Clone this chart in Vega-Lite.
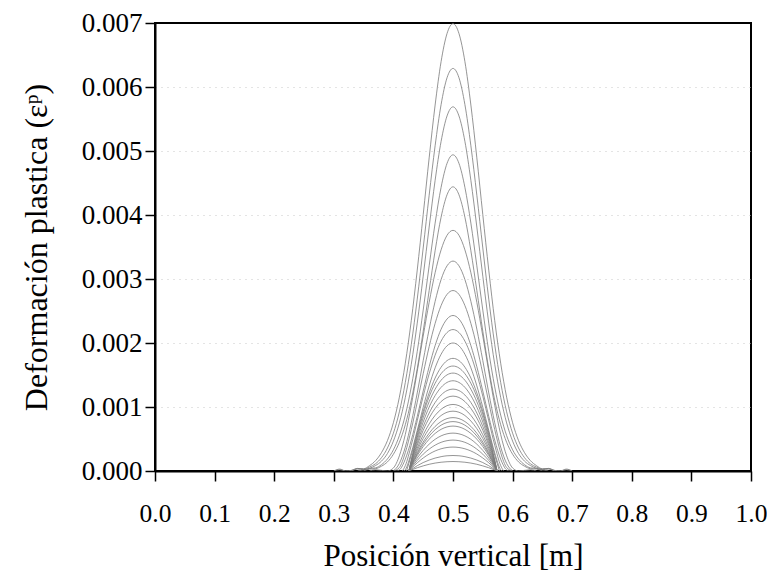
{
"$schema": "https://vega.github.io/schema/vega-lite/v6.json",
"width": 596, "height": 448,
"autosize": "none",
"padding": {"left": 155, "top": 23, "right": 16, "bottom": 109},
"background": "white",
"config": {"view": {"stroke": "#000", "strokeWidth": 2}, "font": "Liberation Serif"},
"data": {"values": [
{"c":1,"x":0.5,"y":0.00699},{"c":1,"x":0.49,"y":0.006836},{"c":1,"x":0.51,"y":0.006836},{"c":1,"x":0.48,"y":0.006396},{"c":1,"x":0.52,"y":0.006396},{"c":1,"x":0.47,"y":0.005718},{"c":1,"x":0.53,"y":0.005718},{"c":1,"x":0.46,"y":0.004893},{"c":1,"x":0.54,"y":0.004893},{"c":1,"x":0.45,"y":0.004005},{"c":1,"x":0.55,"y":0.004005},{"c":1,"x":0.44,"y":0.003139},{"c":1,"x":0.56,"y":0.003139},{"c":1,"x":0.43,"y":0.002349},{"c":1,"x":0.57,"y":0.002349},{"c":1,"x":0.42,"y":0.001685},{"c":1,"x":0.58,"y":0.001685},{"c":1,"x":0.41,"y":0.001153},{"c":1,"x":0.59,"y":0.001153},{"c":1,"x":0.40,"y":0.000755},{"c":1,"x":0.60,"y":0.000755},{"c":1,"x":0.39,"y":0.000475},{"c":1,"x":0.61,"y":0.000475},{"c":1,"x":0.38,"y":0.000287},{"c":1,"x":0.62,"y":0.000287},{"c":1,"x":0.37,"y":0.000161},{"c":1,"x":0.63,"y":0.000161},{"c":1,"x":0.36,"y":0.000084},{"c":1,"x":0.64,"y":0.000084},{"c":1,"x":0.35,"y":0.000035},{"c":1,"x":0.65,"y":0.000035},{"c":1,"x":0.34,"y":0.00004},{"c":1,"x":0.66,"y":0.00004},{"c":1,"x":0.33,"y":0.00001},{"c":1,"x":0.67,"y":0.00001},{"c":1,"x":0.32,"y":0},{"c":1,"x":0.68,"y":0},{"c":1,"x":0.31,"y":0.00003},{"c":1,"x":0.69,"y":0.00003},{"c":1,"x":0.30,"y":0},{"c":1,"x":0.70,"y":0},
{"c":2,"x":0.5,"y":0.00629},{"c":2,"x":0.49,"y":0.006145},{"c":2,"x":0.51,"y":0.006145},{"c":2,"x":0.48,"y":0.005724},{"c":2,"x":0.52,"y":0.005724},{"c":2,"x":0.47,"y":0.005082},{"c":2,"x":0.53,"y":0.005082},{"c":2,"x":0.46,"y":0.004309},{"c":2,"x":0.54,"y":0.004309},{"c":2,"x":0.45,"y":0.003485},{"c":2,"x":0.55,"y":0.003485},{"c":2,"x":0.44,"y":0.002686},{"c":2,"x":0.56,"y":0.002686},{"c":2,"x":0.43,"y":0.001975},{"c":2,"x":0.57,"y":0.001975},{"c":2,"x":0.42,"y":0.001384},{"c":2,"x":0.58,"y":0.001384},{"c":2,"x":0.41,"y":0.000925},{"c":2,"x":0.59,"y":0.000925},{"c":2,"x":0.40,"y":0.000591},{"c":2,"x":0.60,"y":0.000591},{"c":2,"x":0.39,"y":0.000359},{"c":2,"x":0.61,"y":0.000359},{"c":2,"x":0.38,"y":0.000208},{"c":2,"x":0.62,"y":0.000208},{"c":2,"x":0.37,"y":0.000113},{"c":2,"x":0.63,"y":0.000113},{"c":2,"x":0.36,"y":0.000062},{"c":2,"x":0.64,"y":0.000062},{"c":2,"x":0.35,"y":0.00003},{"c":2,"x":0.65,"y":0.00003},{"c":2,"x":0.34,"y":0.00004},{"c":2,"x":0.66,"y":0.00004},{"c":2,"x":0.33,"y":0.00001},{"c":2,"x":0.67,"y":0.00001},{"c":2,"x":0.32,"y":0},{"c":2,"x":0.68,"y":0},{"c":2,"x":0.31,"y":0.00002},{"c":2,"x":0.69,"y":0.00002},{"c":2,"x":0.30,"y":0},{"c":2,"x":0.70,"y":0},
{"c":3,"x":0.5,"y":0.00569},{"c":3,"x":0.49,"y":0.005548},{"c":3,"x":0.51,"y":0.005548},{"c":3,"x":0.48,"y":0.005149},{"c":3,"x":0.52,"y":0.005149},{"c":3,"x":0.47,"y":0.004541},{"c":3,"x":0.53,"y":0.004541},{"c":3,"x":0.46,"y":0.003812},{"c":3,"x":0.54,"y":0.003812},{"c":3,"x":0.45,"y":0.003044},{"c":3,"x":0.55,"y":0.003044},{"c":3,"x":0.44,"y":0.00231},{"c":3,"x":0.56,"y":0.00231},{"c":3,"x":0.43,"y":0.001667},{"c":3,"x":0.57,"y":0.001667},{"c":3,"x":0.42,"y":0.001149},{"c":3,"x":0.58,"y":0.001149},{"c":3,"x":0.41,"y":0.000751},{"c":3,"x":0.59,"y":0.000751},{"c":3,"x":0.40,"y":0.000467},{"c":3,"x":0.60,"y":0.000467},{"c":3,"x":0.39,"y":0.000273},{"c":3,"x":0.61,"y":0.000273},{"c":3,"x":0.38,"y":0.000154},{"c":3,"x":0.62,"y":0.000154},{"c":3,"x":0.37,"y":0.000085},{"c":3,"x":0.63,"y":0.000085},{"c":3,"x":0.36,"y":0.000042},{"c":3,"x":0.64,"y":0.000042},{"c":3,"x":0.35,"y":0.00002},{"c":3,"x":0.65,"y":0.00002},{"c":3,"x":0.34,"y":0.00003},{"c":3,"x":0.66,"y":0.00003},{"c":3,"x":0.33,"y":0},{"c":3,"x":0.67,"y":0},
{"c":4,"x":0.5,"y":0.00494},{"c":4,"x":0.49,"y":0.004807},{"c":4,"x":0.51,"y":0.004807},{"c":4,"x":0.48,"y":0.004431},{"c":4,"x":0.52,"y":0.004431},{"c":4,"x":0.47,"y":0.003873},{"c":4,"x":0.53,"y":0.003873},{"c":4,"x":0.46,"y":0.003206},{"c":4,"x":0.54,"y":0.003206},{"c":4,"x":0.45,"y":0.002514},{"c":4,"x":0.55,"y":0.002514},{"c":4,"x":0.44,"y":0.001867},{"c":4,"x":0.56,"y":0.001867},{"c":4,"x":0.43,"y":0.001314},{"c":4,"x":0.57,"y":0.001314},{"c":4,"x":0.42,"y":0.000874},{"c":4,"x":0.58,"y":0.000874},{"c":4,"x":0.41,"y":0.000553},{"c":4,"x":0.59,"y":0.000553},{"c":4,"x":0.40,"y":0.000331},{"c":4,"x":0.60,"y":0.000331},{"c":4,"x":0.39,"y":0.000188},{"c":4,"x":0.61,"y":0.000188},{"c":4,"x":0.38,"y":0.000099},{"c":4,"x":0.62,"y":0.000099},{"c":4,"x":0.37,"y":0.000049},{"c":4,"x":0.63,"y":0.000049},{"c":4,"x":0.36,"y":0.00004},{"c":4,"x":0.64,"y":0.00004},{"c":4,"x":0.35,"y":0.00002},{"c":4,"x":0.65,"y":0.00002},{"c":4,"x":0.34,"y":0},{"c":4,"x":0.66,"y":0},
{"c":5,"x":0.5,"y":0.00444},{"c":5,"x":0.49,"y":0.004316},{"c":5,"x":0.51,"y":0.004316},{"c":5,"x":0.48,"y":0.003965},{"c":5,"x":0.52,"y":0.003965},{"c":5,"x":0.47,"y":0.003441},{"c":5,"x":0.53,"y":0.003441},{"c":5,"x":0.46,"y":0.002819},{"c":5,"x":0.54,"y":0.002819},{"c":5,"x":0.45,"y":0.002184},{"c":5,"x":0.55,"y":0.002184},{"c":5,"x":0.44,"y":0.001598},{"c":5,"x":0.56,"y":0.001598},{"c":5,"x":0.43,"y":0.001106},{"c":5,"x":0.57,"y":0.001106},{"c":5,"x":0.42,"y":0.000724},{"c":5,"x":0.58,"y":0.000724},{"c":5,"x":0.41,"y":0.000448},{"c":5,"x":0.59,"y":0.000448},{"c":5,"x":0.40,"y":0.000262},{"c":5,"x":0.60,"y":0.000262},{"c":5,"x":0.39,"y":0.000142},{"c":5,"x":0.61,"y":0.000142},{"c":5,"x":0.38,"y":0.000075},{"c":5,"x":0.62,"y":0.000075},{"c":5,"x":0.37,"y":0.000036},{"c":5,"x":0.63,"y":0.000036},{"c":5,"x":0.36,"y":0.00003},{"c":5,"x":0.64,"y":0.00003},{"c":5,"x":0.35,"y":0},{"c":5,"x":0.65,"y":0},
{"c":6,"x":0.5,"y":0.00376},{"c":6,"x":0.49,"y":0.003683},{"c":6,"x":0.51,"y":0.003683},{"c":6,"x":0.48,"y":0.003455},{"c":6,"x":0.52,"y":0.003455},{"c":6,"x":0.47,"y":0.003098},{"c":6,"x":0.53,"y":0.003098},{"c":6,"x":0.46,"y":0.002636},{"c":6,"x":0.54,"y":0.002636},{"c":6,"x":0.45,"y":0.002109},{"c":6,"x":0.55,"y":0.002109},{"c":6,"x":0.44,"y":0.001557},{"c":6,"x":0.56,"y":0.001557},{"c":6,"x":0.43,"y":0.001026},{"c":6,"x":0.57,"y":0.001026},{"c":6,"x":0.42,"y":0.000572},{"c":6,"x":0.58,"y":0.000572},{"c":6,"x":0.41,"y":0.000237},{"c":6,"x":0.59,"y":0.000237},{"c":6,"x":0.40,"y":0.000047},{"c":6,"x":0.60,"y":0.000047},{"c":6,"x":0.39,"y":0},{"c":6,"x":0.61,"y":0},{"c":6,"x":0.37,"y":0.00002},{"c":6,"x":0.63,"y":0.00002},{"c":6,"x":0.36,"y":0},{"c":6,"x":0.64,"y":0},
{"c":7,"x":0.5,"y":0.00328},{"c":7,"x":0.49,"y":0.003206},{"c":7,"x":0.51,"y":0.003206},{"c":7,"x":0.48,"y":0.002991},{"c":7,"x":0.52,"y":0.002991},{"c":7,"x":0.47,"y":0.00265},{"c":7,"x":0.53,"y":0.00265},{"c":7,"x":0.46,"y":0.002217},{"c":7,"x":0.54,"y":0.002217},{"c":7,"x":0.45,"y":0.001725},{"c":7,"x":0.55,"y":0.001725},{"c":7,"x":0.44,"y":0.00122},{"c":7,"x":0.56,"y":0.00122},{"c":7,"x":0.43,"y":0.000754},{"c":7,"x":0.57,"y":0.000754},{"c":7,"x":0.42,"y":0.000374},{"c":7,"x":0.58,"y":0.000374},{"c":7,"x":0.41,"y":0.000118},{"c":7,"x":0.59,"y":0.000118},{"c":7,"x":0.40,"y":0},{"c":7,"x":0.60,"y":0},
{"c":8,"x":0.5,"y":0.00282},{"c":8,"x":0.49,"y":0.00276},{"c":8,"x":0.51,"y":0.00276},{"c":8,"x":0.48,"y":0.002585},{"c":8,"x":0.52,"y":0.002585},{"c":8,"x":0.47,"y":0.002306},{"c":8,"x":0.53,"y":0.002306},{"c":8,"x":0.46,"y":0.001943},{"c":8,"x":0.54,"y":0.001943},{"c":8,"x":0.45,"y":0.001521},{"c":8,"x":0.55,"y":0.001521},{"c":8,"x":0.44,"y":0.001075},{"c":8,"x":0.56,"y":0.001075},{"c":8,"x":0.43,"y":0.000647},{"c":8,"x":0.57,"y":0.000647},{"c":8,"x":0.42,"y":0.000288},{"c":8,"x":0.58,"y":0.000288},{"c":8,"x":0.41,"y":0.000054},{"c":8,"x":0.59,"y":0.000054},{"c":8,"x":0.40,"y":0},{"c":8,"x":0.60,"y":0},
{"c":9,"x":0.5,"y":0.00243},{"c":9,"x":0.49,"y":0.002375},{"c":9,"x":0.51,"y":0.002375},{"c":9,"x":0.48,"y":0.002215},{"c":9,"x":0.52,"y":0.002215},{"c":9,"x":0.47,"y":0.00196},{"c":9,"x":0.53,"y":0.00196},{"c":9,"x":0.46,"y":0.00163},{"c":9,"x":0.54,"y":0.00163},{"c":9,"x":0.45,"y":0.001249},{"c":9,"x":0.55,"y":0.001249},{"c":9,"x":0.44,"y":0.000853},{"c":9,"x":0.56,"y":0.000853},{"c":9,"x":0.43,"y":0.000482},{"c":9,"x":0.57,"y":0.000482},{"c":9,"x":0.42,"y":0.000185},{"c":9,"x":0.58,"y":0.000185},{"c":9,"x":0.41,"y":0.000017},{"c":9,"x":0.59,"y":0.000017},{"c":9,"x":0.405,"y":0},{"c":9,"x":0.595,"y":0},
{"c":10,"x":0.5,"y":0.00221},{"c":10,"x":0.49,"y":0.002164},{"c":10,"x":0.51,"y":0.002164},{"c":10,"x":0.48,"y":0.002029},{"c":10,"x":0.52,"y":0.002029},{"c":10,"x":0.47,"y":0.00181},{"c":10,"x":0.53,"y":0.00181},{"c":10,"x":0.46,"y":0.001518},{"c":10,"x":0.54,"y":0.001518},{"c":10,"x":0.45,"y":0.001169},{"c":10,"x":0.55,"y":0.001169},{"c":10,"x":0.44,"y":0.000785},{"c":10,"x":0.56,"y":0.000785},{"c":10,"x":0.43,"y":0.000404},{"c":10,"x":0.57,"y":0.000404},{"c":10,"x":0.42,"y":0.000085},{"c":10,"x":0.58,"y":0.000085},{"c":10,"x":0.415,"y":0},{"c":10,"x":0.585,"y":0},
{"c":11,"x":0.5,"y":0.002},{"c":11,"x":0.49,"y":0.001956},{"c":11,"x":0.51,"y":0.001956},{"c":11,"x":0.48,"y":0.001824},{"c":11,"x":0.52,"y":0.001824},{"c":11,"x":0.47,"y":0.001612},{"c":11,"x":0.53,"y":0.001612},{"c":11,"x":0.46,"y":0.00133},{"c":11,"x":0.54,"y":0.00133},{"c":11,"x":0.45,"y":0.000996},{"c":11,"x":0.55,"y":0.000996},{"c":11,"x":0.44,"y":0.000633},{"c":11,"x":0.56,"y":0.000633},{"c":11,"x":0.43,"y":0.000283},{"c":11,"x":0.57,"y":0.000283},{"c":11,"x":0.42,"y":0.000021},{"c":11,"x":0.58,"y":0.000021},{"c":11,"x":0.418,"y":0},{"c":11,"x":0.582,"y":0},
{"c":12,"x":0.5,"y":0.00176},{"c":12,"x":0.49,"y":0.001725},{"c":12,"x":0.51,"y":0.001725},{"c":12,"x":0.48,"y":0.001622},{"c":12,"x":0.52,"y":0.001622},{"c":12,"x":0.47,"y":0.001453},{"c":12,"x":0.53,"y":0.001453},{"c":12,"x":0.46,"y":0.00122},{"c":12,"x":0.54,"y":0.00122},{"c":12,"x":0.45,"y":0.000933},{"c":12,"x":0.55,"y":0.000933},{"c":12,"x":0.44,"y":0.0006},{"c":12,"x":0.56,"y":0.0006},{"c":12,"x":0.43,"y":0.000247},{"c":12,"x":0.57,"y":0.000247},{"c":12,"x":0.422,"y":0},{"c":12,"x":0.578,"y":0},
{"c":13,"x":0.5,"y":0.00164},{"c":13,"x":0.49,"y":0.00161},{"c":13,"x":0.51,"y":0.00161},{"c":13,"x":0.48,"y":0.00152},{"c":13,"x":0.52,"y":0.00152},{"c":13,"x":0.47,"y":0.00137},{"c":13,"x":0.53,"y":0.00137},{"c":13,"x":0.46,"y":0.001161},{"c":13,"x":0.54,"y":0.001161},{"c":13,"x":0.45,"y":0.000891},{"c":13,"x":0.55,"y":0.000891},{"c":13,"x":0.44,"y":0.000562},{"c":13,"x":0.56,"y":0.000562},{"c":13,"x":0.43,"y":0.000173},{"c":13,"x":0.57,"y":0.000173},{"c":13,"x":0.426,"y":0},{"c":13,"x":0.574,"y":0},
{"c":14,"x":0.5,"y":0.00153},{"c":14,"x":0.49,"y":0.001502},{"c":14,"x":0.51,"y":0.001502},{"c":14,"x":0.48,"y":0.001418},{"c":14,"x":0.52,"y":0.001418},{"c":14,"x":0.47,"y":0.001278},{"c":14,"x":0.53,"y":0.001278},{"c":14,"x":0.46,"y":0.001083},{"c":14,"x":0.54,"y":0.001083},{"c":14,"x":0.45,"y":0.000832},{"c":14,"x":0.55,"y":0.000832},{"c":14,"x":0.44,"y":0.000524},{"c":14,"x":0.56,"y":0.000524},{"c":14,"x":0.43,"y":0.000161},{"c":14,"x":0.57,"y":0.000161},{"c":14,"x":0.426,"y":0},{"c":14,"x":0.574,"y":0},
{"c":15,"x":0.5,"y":0.00141},{"c":15,"x":0.49,"y":0.001384},{"c":15,"x":0.51,"y":0.001384},{"c":15,"x":0.48,"y":0.001307},{"c":15,"x":0.52,"y":0.001307},{"c":15,"x":0.47,"y":0.001178},{"c":15,"x":0.53,"y":0.001178},{"c":15,"x":0.46,"y":0.000998},{"c":15,"x":0.54,"y":0.000998},{"c":15,"x":0.45,"y":0.000766},{"c":15,"x":0.55,"y":0.000766},{"c":15,"x":0.44,"y":0.000483},{"c":15,"x":0.56,"y":0.000483},{"c":15,"x":0.43,"y":0.000148},{"c":15,"x":0.57,"y":0.000148},{"c":15,"x":0.426,"y":0},{"c":15,"x":0.574,"y":0},
{"c":16,"x":0.5,"y":0.00128},{"c":16,"x":0.49,"y":0.001257},{"c":16,"x":0.51,"y":0.001257},{"c":16,"x":0.48,"y":0.001187},{"c":16,"x":0.52,"y":0.001187},{"c":16,"x":0.47,"y":0.00107},{"c":16,"x":0.53,"y":0.00107},{"c":16,"x":0.46,"y":0.000906},{"c":16,"x":0.54,"y":0.000906},{"c":16,"x":0.45,"y":0.000696},{"c":16,"x":0.55,"y":0.000696},{"c":16,"x":0.44,"y":0.000439},{"c":16,"x":0.56,"y":0.000439},{"c":16,"x":0.43,"y":0.000135},{"c":16,"x":0.57,"y":0.000135},{"c":16,"x":0.426,"y":0},{"c":16,"x":0.574,"y":0},
{"c":17,"x":0.5,"y":0.00117},{"c":17,"x":0.49,"y":0.001149},{"c":17,"x":0.51,"y":0.001149},{"c":17,"x":0.48,"y":0.001085},{"c":17,"x":0.52,"y":0.001085},{"c":17,"x":0.47,"y":0.000978},{"c":17,"x":0.53,"y":0.000978},{"c":17,"x":0.46,"y":0.000828},{"c":17,"x":0.54,"y":0.000828},{"c":17,"x":0.45,"y":0.000636},{"c":17,"x":0.55,"y":0.000636},{"c":17,"x":0.44,"y":0.000401},{"c":17,"x":0.56,"y":0.000401},{"c":17,"x":0.43,"y":0.000123},{"c":17,"x":0.57,"y":0.000123},{"c":17,"x":0.426,"y":0},{"c":17,"x":0.574,"y":0},
{"c":18,"x":0.5,"y":0.00104},{"c":18,"x":0.49,"y":0.001021},{"c":18,"x":0.51,"y":0.001021},{"c":18,"x":0.48,"y":0.000964},{"c":18,"x":0.52,"y":0.000964},{"c":18,"x":0.47,"y":0.000869},{"c":18,"x":0.53,"y":0.000869},{"c":18,"x":0.46,"y":0.000736},{"c":18,"x":0.54,"y":0.000736},{"c":18,"x":0.45,"y":0.000565},{"c":18,"x":0.55,"y":0.000565},{"c":18,"x":0.44,"y":0.000356},{"c":18,"x":0.56,"y":0.000356},{"c":18,"x":0.43,"y":0.000109},{"c":18,"x":0.57,"y":0.000109},{"c":18,"x":0.426,"y":0},{"c":18,"x":0.574,"y":0},
{"c":19,"x":0.5,"y":0.000935},{"c":19,"x":0.49,"y":0.000918},{"c":19,"x":0.51,"y":0.000918},{"c":19,"x":0.48,"y":0.000867},{"c":19,"x":0.52,"y":0.000867},{"c":19,"x":0.47,"y":0.000781},{"c":19,"x":0.53,"y":0.000781},{"c":19,"x":0.46,"y":0.000662},{"c":19,"x":0.54,"y":0.000662},{"c":19,"x":0.45,"y":0.000508},{"c":19,"x":0.55,"y":0.000508},{"c":19,"x":0.44,"y":0.00032},{"c":19,"x":0.56,"y":0.00032},{"c":19,"x":0.43,"y":0.000098},{"c":19,"x":0.57,"y":0.000098},{"c":19,"x":0.426,"y":0},{"c":19,"x":0.574,"y":0},
{"c":20,"x":0.5,"y":0.000834},{"c":20,"x":0.49,"y":0.000819},{"c":20,"x":0.51,"y":0.000819},{"c":20,"x":0.48,"y":0.000773},{"c":20,"x":0.52,"y":0.000773},{"c":20,"x":0.47,"y":0.000697},{"c":20,"x":0.53,"y":0.000697},{"c":20,"x":0.46,"y":0.00059},{"c":20,"x":0.54,"y":0.00059},{"c":20,"x":0.45,"y":0.000453},{"c":20,"x":0.55,"y":0.000453},{"c":20,"x":0.44,"y":0.000286},{"c":20,"x":0.56,"y":0.000286},{"c":20,"x":0.43,"y":0.000088},{"c":20,"x":0.57,"y":0.000088},{"c":20,"x":0.426,"y":0},{"c":20,"x":0.574,"y":0},
{"c":21,"x":0.5,"y":0.000772},{"c":21,"x":0.49,"y":0.000758},{"c":21,"x":0.51,"y":0.000758},{"c":21,"x":0.48,"y":0.000716},{"c":21,"x":0.52,"y":0.000716},{"c":21,"x":0.47,"y":0.000645},{"c":21,"x":0.53,"y":0.000645},{"c":21,"x":0.46,"y":0.000546},{"c":21,"x":0.54,"y":0.000546},{"c":21,"x":0.45,"y":0.00042},{"c":21,"x":0.55,"y":0.00042},{"c":21,"x":0.44,"y":0.000264},{"c":21,"x":0.56,"y":0.000264},{"c":21,"x":0.43,"y":0.000081},{"c":21,"x":0.57,"y":0.000081},{"c":21,"x":0.426,"y":0},{"c":21,"x":0.574,"y":0},
{"c":22,"x":0.5,"y":0.000702},{"c":22,"x":0.49,"y":0.000689},{"c":22,"x":0.51,"y":0.000689},{"c":22,"x":0.48,"y":0.000651},{"c":22,"x":0.52,"y":0.000651},{"c":22,"x":0.47,"y":0.000587},{"c":22,"x":0.53,"y":0.000587},{"c":22,"x":0.46,"y":0.000497},{"c":22,"x":0.54,"y":0.000497},{"c":22,"x":0.45,"y":0.000382},{"c":22,"x":0.55,"y":0.000382},{"c":22,"x":0.44,"y":0.000241},{"c":22,"x":0.56,"y":0.000241},{"c":22,"x":0.43,"y":0.000074},{"c":22,"x":0.57,"y":0.000074},{"c":22,"x":0.426,"y":0},{"c":22,"x":0.574,"y":0},
{"c":23,"x":0.5,"y":0.000592},{"c":23,"x":0.49,"y":0.000581},{"c":23,"x":0.51,"y":0.000581},{"c":23,"x":0.48,"y":0.000549},{"c":23,"x":0.52,"y":0.000549},{"c":23,"x":0.47,"y":0.000495},{"c":23,"x":0.53,"y":0.000495},{"c":23,"x":0.46,"y":0.000419},{"c":23,"x":0.54,"y":0.000419},{"c":23,"x":0.45,"y":0.000322},{"c":23,"x":0.55,"y":0.000322},{"c":23,"x":0.44,"y":0.000203},{"c":23,"x":0.56,"y":0.000203},{"c":23,"x":0.43,"y":0.000062},{"c":23,"x":0.57,"y":0.000062},{"c":23,"x":0.426,"y":0},{"c":23,"x":0.574,"y":0},
{"c":24,"x":0.5,"y":0.000483},{"c":24,"x":0.49,"y":0.000474},{"c":24,"x":0.51,"y":0.000474},{"c":24,"x":0.48,"y":0.000448},{"c":24,"x":0.52,"y":0.000448},{"c":24,"x":0.47,"y":0.000404},{"c":24,"x":0.53,"y":0.000404},{"c":24,"x":0.46,"y":0.000342},{"c":24,"x":0.54,"y":0.000342},{"c":24,"x":0.45,"y":0.000263},{"c":24,"x":0.55,"y":0.000263},{"c":24,"x":0.44,"y":0.000165},{"c":24,"x":0.56,"y":0.000165},{"c":24,"x":0.43,"y":0.000051},{"c":24,"x":0.57,"y":0.000051},{"c":24,"x":0.426,"y":0},{"c":24,"x":0.574,"y":0},
{"c":25,"x":0.5,"y":0.000374},{"c":25,"x":0.49,"y":0.000367},{"c":25,"x":0.51,"y":0.000367},{"c":25,"x":0.48,"y":0.000347},{"c":25,"x":0.52,"y":0.000347},{"c":25,"x":0.47,"y":0.000313},{"c":25,"x":0.53,"y":0.000313},{"c":25,"x":0.46,"y":0.000265},{"c":25,"x":0.54,"y":0.000265},{"c":25,"x":0.45,"y":0.000203},{"c":25,"x":0.55,"y":0.000203},{"c":25,"x":0.44,"y":0.000128},{"c":25,"x":0.56,"y":0.000128},{"c":25,"x":0.43,"y":0.000039},{"c":25,"x":0.57,"y":0.000039},{"c":25,"x":0.426,"y":0},{"c":25,"x":0.574,"y":0},
{"c":26,"x":0.5,"y":0.000242},{"c":26,"x":0.49,"y":0.000238},{"c":26,"x":0.51,"y":0.000238},{"c":26,"x":0.48,"y":0.000224},{"c":26,"x":0.52,"y":0.000224},{"c":26,"x":0.47,"y":0.000202},{"c":26,"x":0.53,"y":0.000202},{"c":26,"x":0.46,"y":0.000171},{"c":26,"x":0.54,"y":0.000171},{"c":26,"x":0.45,"y":0.000132},{"c":26,"x":0.55,"y":0.000132},{"c":26,"x":0.44,"y":0.000083},{"c":26,"x":0.56,"y":0.000083},{"c":26,"x":0.43,"y":0.000025},{"c":26,"x":0.57,"y":0.000025},{"c":26,"x":0.426,"y":0},{"c":26,"x":0.574,"y":0},
{"c":27,"x":0.5,"y":0.000148},{"c":27,"x":0.49,"y":0.000145},{"c":27,"x":0.51,"y":0.000145},{"c":27,"x":0.48,"y":0.000137},{"c":27,"x":0.52,"y":0.000137},{"c":27,"x":0.47,"y":0.000124},{"c":27,"x":0.53,"y":0.000124},{"c":27,"x":0.46,"y":0.000105},{"c":27,"x":0.54,"y":0.000105},{"c":27,"x":0.45,"y":0.00008},{"c":27,"x":0.55,"y":0.00008},{"c":27,"x":0.44,"y":0.000051},{"c":27,"x":0.56,"y":0.000051},{"c":27,"x":0.43,"y":0.000016},{"c":27,"x":0.57,"y":0.000016},{"c":27,"x":0.426,"y":0},{"c":27,"x":0.574,"y":0}
]},
"mark": {"type": "line", "stroke": "#7a7a7a", "strokeWidth": 0.8, "interpolate": "monotone", "clip": true},
"encoding": {
  "x": {"field": "x", "type": "quantitative", "scale": {"domain": [0, 1], "nice": false, "zero": false},
    "axis": {"values": [0, 0.1, 0.2, 0.3, 0.4, 0.5, 0.6, 0.7, 0.8, 0.9, 1.0], "format": ".1f", "title": "Posición vertical [m]", "grid": false,
      "domainColor": "#000", "domainWidth": 2, "tickColor": "#000", "tickWidth": 1.5, "tickSize": 10,
      "labelFont": "Liberation Serif", "labelFontSize": 25.5, "labelColor": "#000", "labelPadding": 20, "labelFlush": false,
      "titleFont": "Liberation Serif", "titleFontSize": 31, "titleFontWeight": "normal", "titleColor": "#000", "titlePadding": 15}},
  "y": {"field": "y", "type": "quantitative", "scale": {"domain": [0, 0.007], "nice": false},
    "axis": {"values": [0, 0.001, 0.002, 0.003, 0.004, 0.005, 0.006, 0.007], "format": ".3f", "title": "Deformación plastica (εᵖ)",
      "grid": true, "gridDash": [1, 5], "gridColor": "#c8c8c8", "gridWidth": 1,
      "gridOpacity": {"condition": {"test": "datum.value <= 0 || datum.value >= 0.007", "value": 0}, "value": 1},
      "domainColor": "#000", "domainWidth": 2, "tickColor": "#000", "tickWidth": 1.5, "tickSize": 10,
      "labelFont": "Liberation Serif", "labelFontSize": 27, "labelColor": "#000", "labelPadding": 3, "labelFlush": false,
      "titleFont": "Liberation Serif", "titleFontSize": 32, "titleFontWeight": "normal", "titleColor": "#000", "titlePadding": 28}},
  "detail": {"field": "c", "type": "nominal"}
}
}
